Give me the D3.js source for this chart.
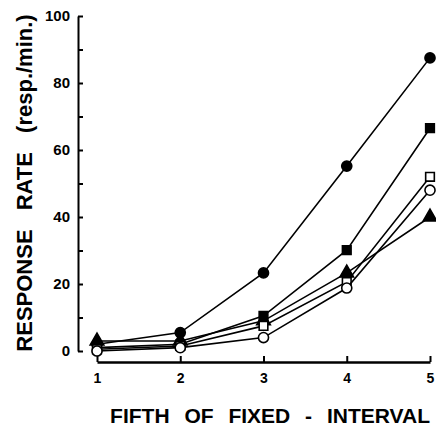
<!DOCTYPE html>
<html>
<head>
<meta charset="utf-8">
<script src="https://cdn.jsdelivr.net/npm/d3@7"></script>
<style>
  body { margin: 0; background: #fff; }
  svg { display: block; font-family: 'Liberation Sans', Arial, sans-serif; }
</style>
</head>
<body>
<div id="app"></div>
<script>
'use strict'
const fifths = [1, 2, 3, 4, 5]
const filledCircle = [2, 5.5, 23.3, 55.2, 87.5]
const filledSquare = [1, 2, 10.5, 30.1, 66.5]
const openSquare = [0.5, 1.5, 7.5, 20.6, 52]
const openCircle = [0, 1, 4, 18.8, 48]
const triangle = [3, 3, 9, 23.3, 40]
const yTicks = [0, 20, 40, 60, 80, 100]

const series = [
  { name: 'filledCircle', values: filledCircle, shape: 'circle', fill: '#000' },
  { name: 'filledSquare', values: filledSquare, shape: 'square', fill: '#000' },
  { name: 'triangle', values: triangle, shape: 'triangle', fill: '#000' },
  { name: 'openSquare', values: openSquare, shape: 'square', fill: '#fff' },
  { name: 'openCircle', values: openCircle, shape: 'circle', fill: '#fff' }
]

const width = 436
const height = 428

const svg = d3.select('#app').append('svg')
  .attr('width', width)
  .attr('height', height)

const xScale = d3.scaleLinear().domain([1, 5]).range([97, 430])
const yScale = d3.scaleLinear().domain([0, 100]).range([351, 16])

// y axis: ticks point inward, minor ticks every 10
const yAxis = svg.append('g')
  .attr('transform', 'translate(78,0)')
  .call(d3.axisLeft(yScale)
    .tickValues(d3.range(0, 101, 10))
    .tickSizeInner(-5)
    .tickSizeOuter(0)
    .tickPadding(8)
    .tickFormat(d => yTicks.includes(d) ? d : ''))
yAxis.select('.domain').attr('stroke-width', 2)
yAxis.selectAll('.tick line').attr('stroke-width', 2)
yAxis.selectAll('text')
  .style('font-size', '15px')
  .style('font-weight', 'bold')
  .attr('fill', '#000')

// x axis sits a little below the y origin
const xAxis = svg.append('g')
  .attr('transform', 'translate(0,362)')
  .call(d3.axisBottom(xScale)
    .tickValues(fifths)
    .tickSizeInner(-6)
    .tickSizeOuter(0)
    .tickPadding(11)
    .tickFormat(d3.format('d')))
xAxis.select('.domain').attr('stroke-width', 2.5)
xAxis.selectAll('.tick line').attr('stroke-width', 2)
xAxis.selectAll('text')
  .style('font-size', '14px')
  .style('font-weight', 'bold')
  .attr('fill', '#000')

// axis titles
svg.append('text')
  .attr('x', 430)
  .attr('y', 423)
  .attr('text-anchor', 'end')
  .style('font-size', '21px')
  .style('font-weight', 'bold')
  .style('word-spacing', '9px')
  .text('FIFTH OF FIXED - INTERVAL')

svg.append('text')
  .attr('transform', 'translate(32,183) rotate(-90)')
  .attr('text-anchor', 'middle')
  .style('font-size', '22px')
  .style('font-weight', 'bold')
  .style('word-spacing', '13px')
  .text('RESPONSE RATE (resp./min.)')

const line = d3.line()
  .x((d, i) => xScale(fifths[i]))
  .y(d => yScale(d))

const groups = svg.selectAll('.series')
  .data(series)
  .enter()
  .append('g')
  .attr('class', 'series')

groups.append('path')
  .attr('d', d => line(d.values))
  .attr('fill', 'none')
  .attr('stroke', '#000')
  .attr('stroke-width', 1.6)

const symbolType = { circle: d3.symbolCircle, square: d3.symbolSquare, triangle: d3.symbolTriangle }
const symbolSize = { circle: 80, square: 75, triangle: 80 }

groups.selectAll('.mark')
  .data(d => d.values.map((v, i) => ({ v, i, s: d })))
  .enter()
  .append('path')
  .attr('class', 'mark')
  .attr('transform', d => `translate(${xScale(fifths[d.i])},${yScale(d.v)})`)
  .attr('d', d => d3.symbol().type(symbolType[d.s.shape]).size(symbolSize[d.s.shape])())
  .attr('fill', d => d.s.fill)
  .attr('stroke', '#000')
  .attr('stroke-width', 1.6)
</script>
</body>
</html>
